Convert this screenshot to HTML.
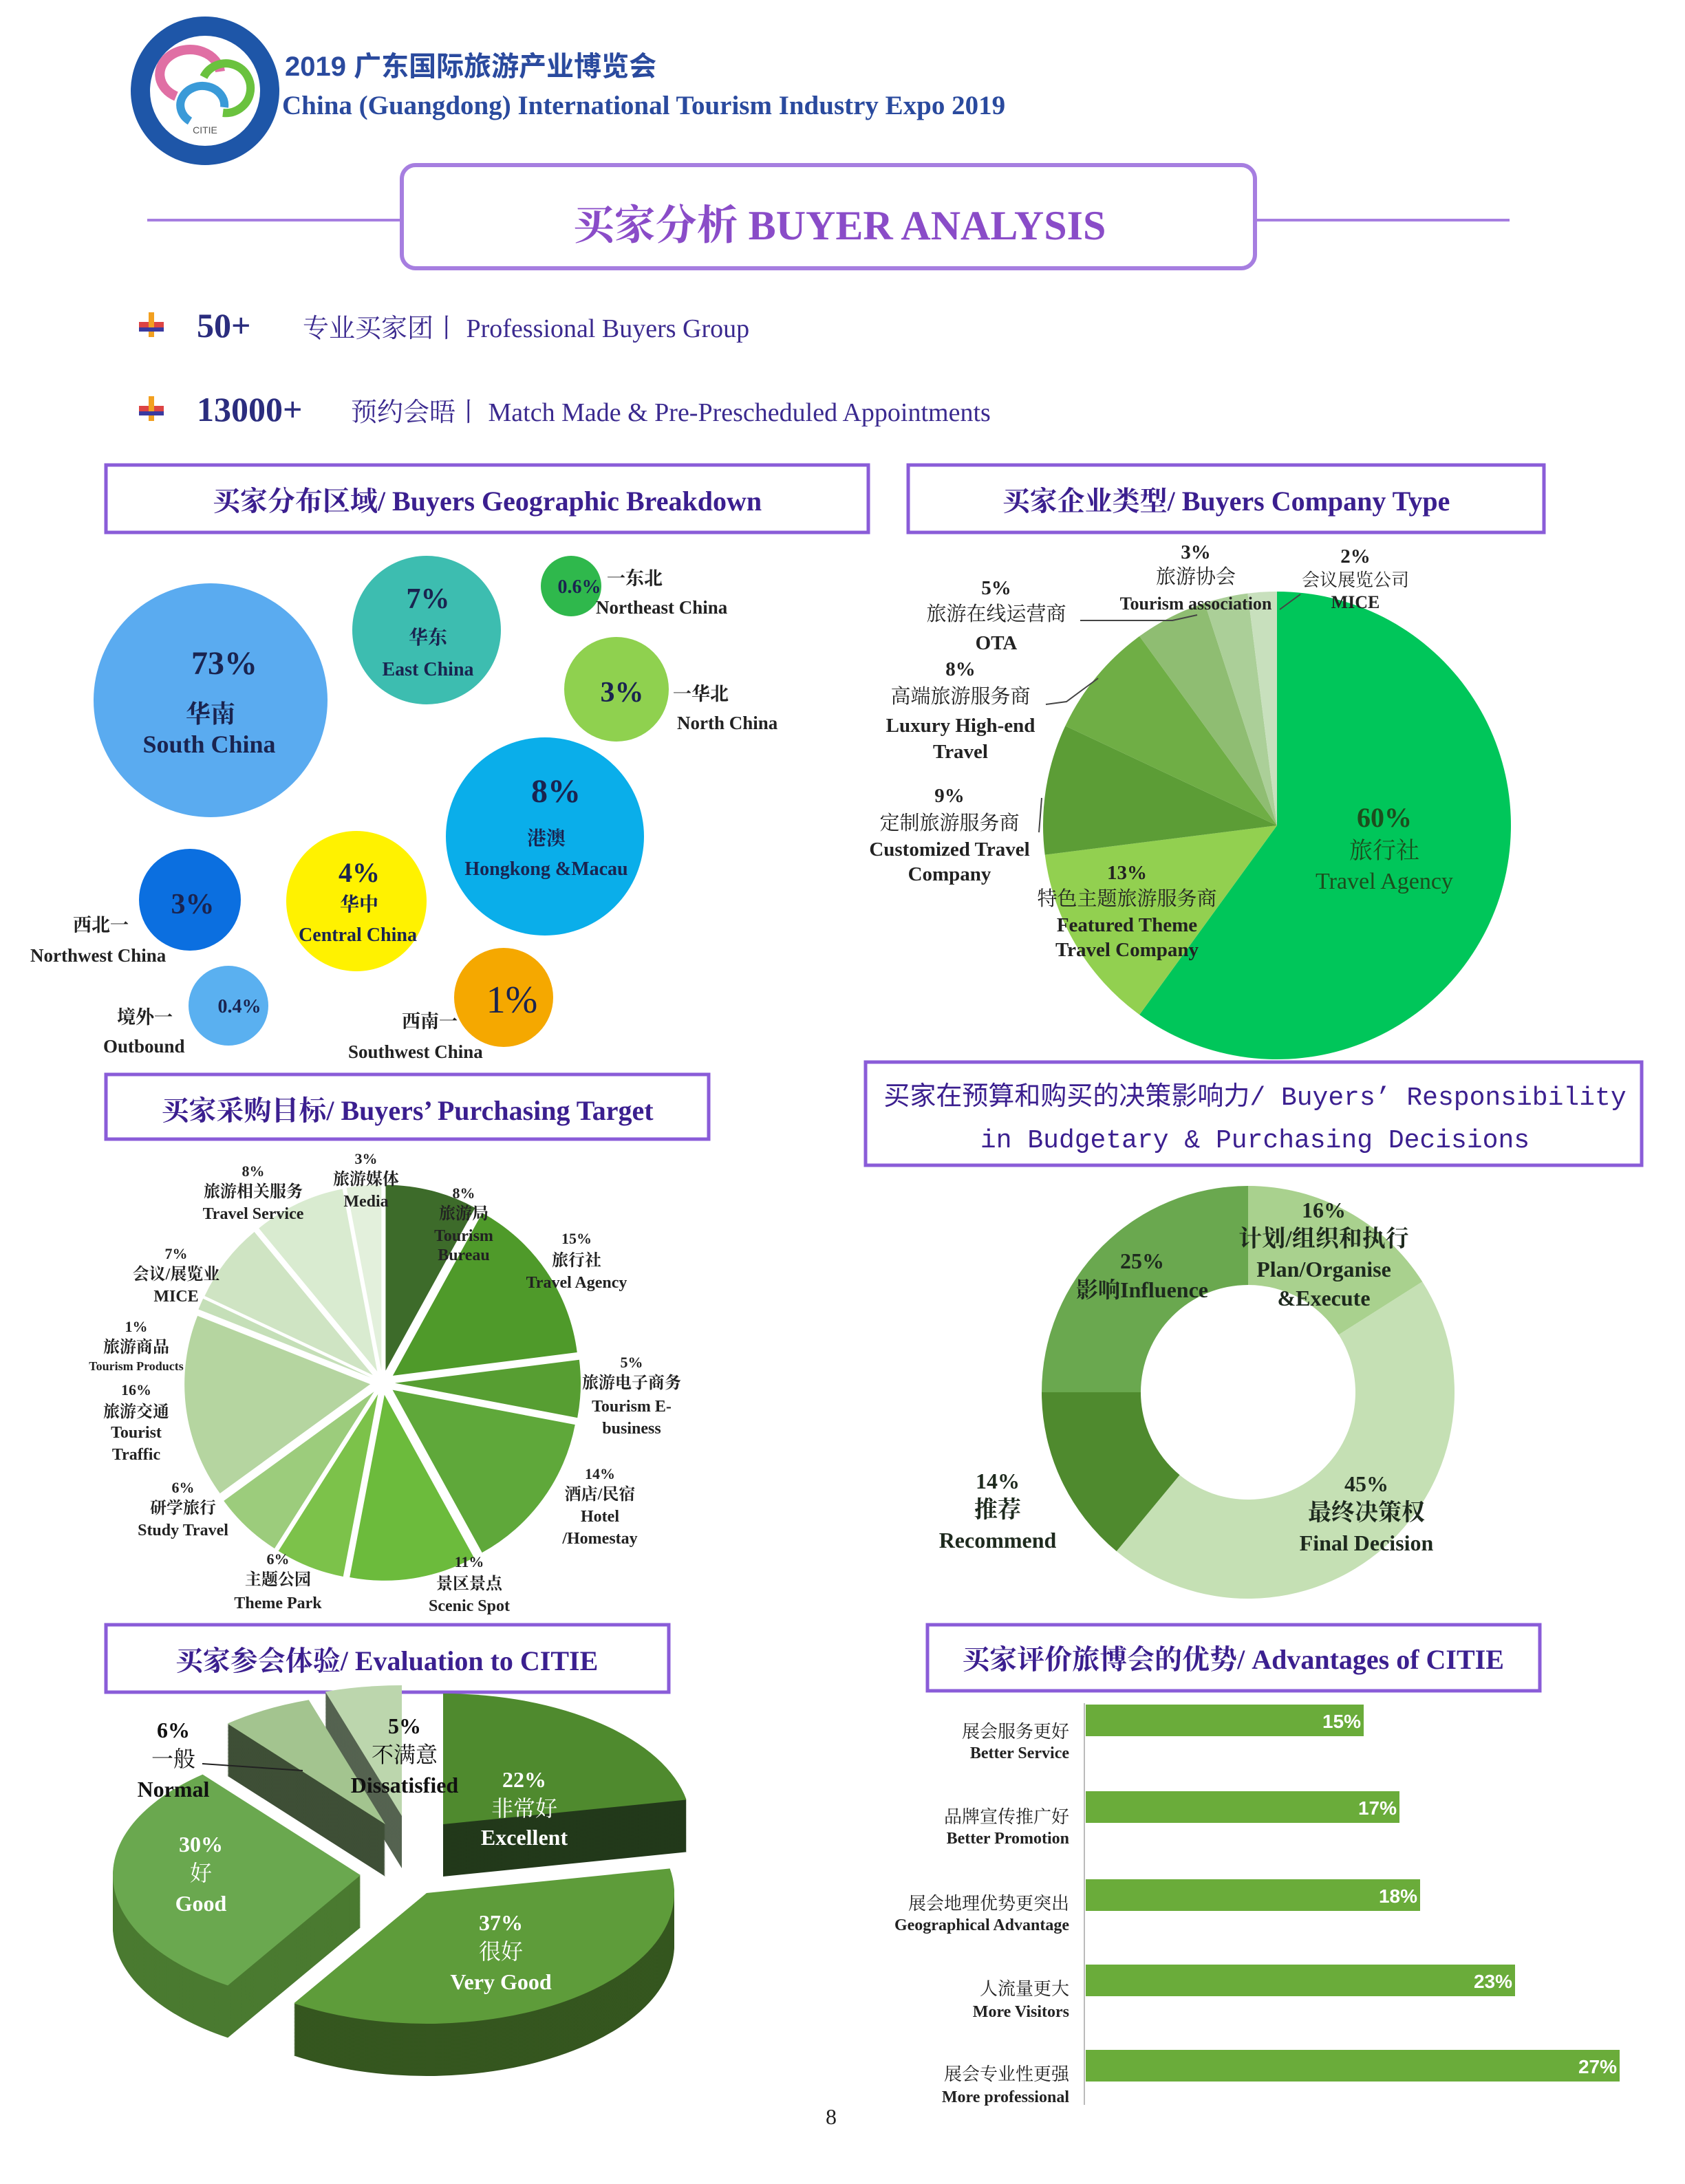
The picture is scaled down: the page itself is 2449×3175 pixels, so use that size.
<!DOCTYPE html>
<html><head><meta charset="utf-8">
<style>
html,body{margin:0;padding:0;background:#fff;}
svg{display:block;}
text{font-family:"Liberation Serif","Noto Serif CJK SC",serif;}
text.sans,.sans text{font-family:"Liberation Sans","Noto Sans CJK SC",sans-serif;}
.mono text{font-family:"Liberation Mono","Noto Sans CJK SC",monospace;}
</style></head>
<body>
<svg id="s" width="2449" height="3175" viewBox="0 0 1224.5 1587.5" xmlns="http://www.w3.org/2000/svg">
<rect width="1224.5" height="1587.5" fill="#fff"/>
<!-- logo -->
<circle cx="149" cy="66" r="54" fill="#1e56a8"/>
<circle cx="149" cy="66" r="40" fill="#fff"/>
<path d="M128 70 A22 18 0 1 1 160 52" fill="none" stroke="#e06fa4" stroke-width="7"/>
<path d="M148 56 A18 18 0 1 1 162 82" fill="none" stroke="#6ac23e" stroke-width="6"/>
<path d="M163 78 A16 14 0 1 0 138 88" fill="none" stroke="#3a9ad8" stroke-width="6"/>
<text x="149" y="97" font-size="7" text-anchor="middle" class="sans" fill="#555">CITIE</text>
<text x="207" y="55" font-size="20" font-weight="bold" class="sans" fill="#2a4a9e">2019 广东国际旅游产业博览会</text>
<text x="205" y="83" font-size="19.5" font-weight="bold" fill="#2a4a9e">China (Guangdong) International Tourism Industry Expo 2019</text>
<!-- header -->
<line x1="107" y1="160" x2="292" y2="160" stroke="#a67ee0" stroke-width="2"/>
<line x1="912" y1="160" x2="1097" y2="160" stroke="#a67ee0" stroke-width="2"/>
<rect x="292" y="120" width="620" height="75" rx="10" fill="#fff" stroke="#a67ee0" stroke-width="3"/>
<text x="610" y="174" font-size="30" text-anchor="middle" fill="#8a4cc8" font-weight="bold">买家分析 BUYER ANALYSIS</text>
<!-- bullets -->
<g><rect x="101" y="234" width="18" height="4" fill="#d44"/><rect x="108" y="227" width="4" height="18" fill="#f2a020"/><rect x="101" y="238" width="18" height="3" fill="#3a3aa0"/></g>
<g><rect x="101" y="295" width="18" height="4" fill="#d44"/><rect x="108" y="288" width="4" height="18" fill="#f2a020"/><rect x="101" y="299" width="18" height="3" fill="#3a3aa0"/></g>
<text x="143" y="245" font-size="25" font-weight="bold" fill="#2b2d7e">50+</text>
<text x="220" y="245" font-size="19" fill="#3b2a8f">专业买家团丨 Professional Buyers Group</text>
<text x="143" y="306" font-size="25" font-weight="bold" fill="#2b2d7e">13000+</text>
<text x="255" y="306" font-size="19" fill="#3b2a8f">预约会晤丨 Match Made &amp; Pre-Prescheduled Appointments</text>
<!-- section boxes -->
<g fill="none" stroke="#8a5cd8" stroke-width="2.5">
<rect x="77" y="338" width="554" height="49"/>
<rect x="660" y="338" width="462" height="49"/>
<rect x="77" y="781" width="438" height="47"/>
<rect x="629" y="772" width="564" height="75"/>
<rect x="77" y="1181" width="409" height="49"/>
<rect x="674" y="1181" width="445" height="48"/>
</g>
<g font-size="20" font-weight="bold" fill="#3b1f8f" text-anchor="middle">
<text x="354" y="371">买家分布区域/ Buyers Geographic Breakdown</text>
<text x="891" y="371">买家企业类型/ Buyers Company Type</text>
<text x="296" y="814">买家采购目标/ Buyers’ Purchasing Target</text>
<text x="281" y="1214">买家参会体验/ Evaluation to CITIE</text>
<text x="896" y="1213">买家评价旅博会的优势/ Advantages of CITIE</text>
</g>
<g font-size="19" fill="#3b1f8f" text-anchor="middle" class="mono">
<text x="912" y="803">买家在预算和购买的决策影响力/ Buyers’ Responsibility</text>
<text x="912" y="834">in Budgetary &amp; Purchasing Decisions</text>
</g>
<!-- bubbles -->
<circle cx="153" cy="509" r="85" fill="#5aabf0"/>
<circle cx="310" cy="458" r="54" fill="#3dbdb0"/>
<circle cx="415" cy="426" r="22" fill="#2fb84c"/>
<circle cx="448" cy="501" r="38" fill="#8fd14f"/>
<circle cx="396" cy="608" r="72" fill="#0aaeea"/>
<circle cx="138" cy="654" r="37" fill="#0b6fe0"/>
<circle cx="259" cy="655" r="51" fill="#fff200"/>
<circle cx="166" cy="731" r="29" fill="#5ab0f0"/>
<circle cx="366" cy="725" r="36" fill="#f5a800"/>
<g font-weight="bold" fill="#1a2450" text-anchor="middle">
<text x="163" y="490" font-size="24">73%</text>
<text x="153" y="525" font-size="18">华南</text>
<text x="152" y="547" font-size="18">South China</text>
<text x="311" y="442" font-size="21">7%</text>
<text x="311" y="468" font-size="14">华东</text>
<text x="311" y="491" font-size="14">East China</text>
<text x="421" y="431" font-size="14">0.6%</text>
<text x="452" y="510" font-size="21">3%</text>
<text x="404" y="583" font-size="24">8%</text>
<text x="397" y="614" font-size="14">港澳</text>
<text x="397" y="636" font-size="14">Hongkong &amp;Macau</text>
<text x="140" y="664" font-size="21">3%</text>
<text x="261" y="641" font-size="20">4%</text>
<text x="261" y="662" font-size="14">华中</text>
<text x="260" y="684" font-size="14">Central China</text>
<text x="174" y="736" font-size="14">0.4%</text>
<text x="372" y="736" font-size="28" font-weight="normal">1%</text>
</g>
<g font-size="13.5" font-weight="bold" fill="#222">
<text x="441" y="425">一东北</text><text x="433" y="446">Northeast China</text>
<text x="489" y="509">一华北</text><text x="492" y="530">North China</text>
<text x="53" y="677">西北一</text><text x="22" y="699">Northwest China</text>
<text x="85" y="744">境外一</text><text x="75" y="765">Outbound</text>
<text x="292" y="747">西南一</text><text x="253" y="769">Southwest China</text>
</g>
<g id="pies"></g>
<!-- company type labels -->
<g font-size="14.5" fill="#222" text-anchor="middle">
<text x="724" y="432" font-weight="bold">5%</text><text x="724" y="451">旅游在线运营商</text><text x="724" y="472" font-weight="bold">OTA</text>
<text x="698" y="491" font-weight="bold">8%</text><text x="698" y="511">高端旅游服务商</text><text x="698" y="532" font-weight="bold">Luxury High-end</text><text x="698" y="551" font-weight="bold">Travel</text>
<text x="690" y="583" font-weight="bold">9%</text><text x="690" y="603">定制旅游服务商</text><text x="690" y="622" font-weight="bold">Customized Travel</text><text x="690" y="640" font-weight="bold">Company</text>
<text x="819" y="639" font-weight="bold">13%</text><text x="819" y="658">特色主题旅游服务商</text><text x="819" y="677" font-weight="bold">Featured Theme</text><text x="819" y="695" font-weight="bold">Travel Company</text>
<text x="869" y="406" font-weight="bold">3%</text><text x="869" y="424">旅游协会</text><text x="869" y="443" font-weight="bold" font-size="13">Tourism association</text>
<text x="985" y="409" font-weight="bold">2%</text><text x="985" y="426" font-size="13">会议展览公司</text><text x="985" y="442" font-weight="bold" font-size="13">MICE</text>
<text x="1006" y="601" font-size="20" font-weight="bold" fill="#1d4d1d">60%</text><text x="1006" y="624" font-size="17" fill="#1d4d1d">旅行社</text><text x="1006" y="646" font-size="17" fill="#1d4d1d">Travel Agency</text>
</g>
<g stroke="#444" fill="none" stroke-width="1">
<polyline points="785,451 852,451 870,447"/>
<polyline points="760,512 775,510 798,493"/>
<polyline points="755,605 757,580"/>
<line x1="930" y1="443" x2="945" y2="432"/>
</g>
<!-- purchasing labels -->
<g font-size="12" fill="#222" text-anchor="middle" font-weight="bold">
<text x="184" y="855" font-size="11">8%</text><text x="184" y="870">旅游相关服务</text><text x="184" y="886">Travel Service</text>
<text x="266" y="846" font-size="11">3%</text><text x="266" y="861">旅游媒体</text><text x="266" y="877">Media</text>
<text x="337" y="871" font-size="11">8%</text><text x="337" y="886">旅游局</text><text x="337" y="902">Tourism</text><text x="337" y="916">Bureau</text>
<text x="419" y="904" font-size="11">15%</text><text x="419" y="920">旅行社</text><text x="419" y="936">Travel Agency</text>
<text x="459" y="994" font-size="11">5%</text><text x="459" y="1009">旅游电子商务</text><text x="459" y="1026">Tourism E-</text><text x="459" y="1042">business</text>
<text x="436" y="1075" font-size="11">14%</text><text x="436" y="1090">酒店/民宿</text><text x="436" y="1106">Hotel</text><text x="436" y="1122">/Homestay</text>
<text x="341" y="1139" font-size="11">11%</text><text x="341" y="1155">景区景点</text><text x="341" y="1171">Scenic Spot</text>
<text x="202" y="1137" font-size="11">6%</text><text x="202" y="1152">主题公园</text><text x="202" y="1169">Theme Park</text>
<text x="133" y="1085" font-size="11">6%</text><text x="133" y="1100">研学旅行</text><text x="133" y="1116">Study Travel</text>
<text x="99" y="1014" font-size="11">16%</text><text x="99" y="1030">旅游交通</text><text x="99" y="1045">Tourist</text><text x="99" y="1061">Traffic</text>
<text x="99" y="968" font-size="11">1%</text><text x="99" y="983">旅游商品</text><text x="99" y="996" font-size="9">Tourism Products</text>
<text x="128" y="915" font-size="11">7%</text><text x="128" y="930">会议/展览业</text><text x="128" y="946">MICE</text>
</g>
<!-- donut labels -->
<g font-size="16" fill="#1e2a1e" text-anchor="middle" font-weight="bold">
<text x="962" y="885">16%</text><text x="962" y="906" font-size="17">计划/组织和执行</text><text x="962" y="928">Plan/Organise</text><text x="962" y="949">&amp;Execute</text>
<text x="830" y="922">25%</text><text x="830" y="943">影响Influence</text>
<text x="725" y="1082">14%</text><text x="725" y="1103" font-size="17">推荐</text><text x="725" y="1125">Recommend</text>
<text x="993" y="1084">45%</text><text x="993" y="1105" font-size="17">最终决策权</text><text x="993" y="1127">Final Decision</text>
</g>
<g id="pie3"></g>
<!-- eval labels -->
<g font-size="16" text-anchor="middle">
<text x="126" y="1263" font-weight="bold" fill="#111">6%</text><text x="126" y="1284" fill="#111">一般</text><text x="126" y="1306" font-weight="bold" fill="#111">Normal</text>
<text x="294" y="1260" font-weight="bold" fill="#111">5%</text><text x="294" y="1281" fill="#111">不满意</text><text x="294" y="1303" font-weight="bold" fill="#111">Dissatisfied</text>
<text x="381" y="1299" font-weight="bold" fill="#fff">22%</text><text x="381" y="1320" fill="#fff">非常好</text><text x="381" y="1341" font-weight="bold" fill="#fff">Excellent</text>
<text x="146" y="1346" font-weight="bold" fill="#fff">30%</text><text x="146" y="1367" fill="#fff">好</text><text x="146" y="1389" font-weight="bold" fill="#fff">Good</text>
<text x="364" y="1403" font-weight="bold" fill="#fff">37%</text><text x="364" y="1424" fill="#fff">很好</text><text x="364" y="1446" font-weight="bold" fill="#fff">Very Good</text>
</g>
<line x1="147" y1="1282" x2="220" y2="1287" stroke="#222" stroke-width="1"/>
<!-- bars -->
<line x1="788" y1="1238" x2="788" y2="1530" stroke="#bbb" stroke-width="1"/>
<g fill="#6aac3a">
<rect x="789" y="1239" width="202" height="23"/>
<rect x="789" y="1302" width="228" height="23"/>
<rect x="789" y="1366" width="243" height="23"/>
<rect x="789" y="1428" width="312" height="23"/>
<rect x="789" y="1490" width="388" height="23"/>
</g>
<g font-size="14" font-weight="bold" fill="#fff" text-anchor="end" class="sans">
<text x="989" y="1256">15%</text><text x="1015" y="1319">17%</text><text x="1030" y="1383">18%</text><text x="1099" y="1445">23%</text><text x="1175" y="1507">27%</text>
</g>
<g font-size="13" fill="#222" text-anchor="end">
<text x="777" y="1263">展会服务更好</text><text x="777" y="1278" font-weight="bold" font-size="12">Better Service</text>
<text x="777" y="1325">品牌宣传推广好</text><text x="777" y="1340" font-weight="bold" font-size="12">Better Promotion</text>
<text x="777" y="1388">展会地理优势更突出</text><text x="777" y="1403" font-weight="bold" font-size="12">Geographical Advantage</text>
<text x="777" y="1450">人流量更大</text><text x="777" y="1466" font-weight="bold" font-size="12">More Visitors</text>
<text x="777" y="1512">展会专业性更强</text><text x="777" y="1528" font-weight="bold" font-size="12">More professional</text>
</g>
<text x="604" y="1544" font-size="16" text-anchor="middle" fill="#222">8</text>
</svg>
<script>
(function(){
var NS='http://www.w3.org/2000/svg',g;
function P(d,f){var p=document.createElementNS(NS,'path');p.setAttribute('d',d);p.setAttribute('fill',f);g.appendChild(p);}
function rad(a){return a*Math.PI/180;}
function sector(cx,cy,r0,r,a0,a1,f,ex){var m=rad((a0+a1)/2);cx+=Math.cos(m)*(ex||0);cy+=Math.sin(m)*(ex||0);
var b=rad(a0),e=rad(a1),L=(a1-a0)>180?1:0;
var d='M'+(cx+r*Math.cos(b))+' '+(cy+r*Math.sin(b))+' A'+r+' '+r+' 0 '+L+' 1 '+(cx+r*Math.cos(e))+' '+(cy+r*Math.sin(e));
if(r0>0){d+=' L'+(cx+r0*Math.cos(e))+' '+(cy+r0*Math.sin(e))+' A'+r0+' '+r0+' 0 '+L+' 0 '+(cx+r0*Math.cos(b))+' '+(cy+r0*Math.sin(b))+'Z';}
else d+=' L'+cx+' '+cy+'Z';P(d,f);}
function run(data,cx,cy,r0,r,ex,start){var a=start;data.forEach(function(s){var b=a+s[0]*3.6;sector(cx,cy,r0,r,a,b,s[1],ex);a=b;});}
g=document.getElementById('pies');
run([[60,'#00c65a'],[13,'#92d050'],[9,'#5c9d36'],[8,'#6fae45'],[5,'#8fbd72'],[3,'#abcf98'],[2,'#c8e0bd']],928,600,0,170,0,-90);
run([[8,'#3d6b2a'],[15,'#4f9a2a'],[5,'#579e32'],[14,'#5fa83a'],[11,'#6cbb3c'],[6,'#7cc24a'],[6,'#9ccc7c'],[16,'#b5d5a0'],[1,'#c5dfb8'],[7,'#cfe4c3'],[8,'#d9ebd0'],[3,'#e3f0dc']],278,1005,0,135,9,-90);
run([[16,'#a9d18e'],[45,'#c5e0b4'],[14,'#4f8a2e'],[25,'#6aa84f']],907,1012,78,150,0,-90);
g=document.getElementById('pie3');
var cx=292,cy=1368,rx=180,ry=95,D=38;
var sl=[[22,'#4f8a2e','#22391a',30,-42],[37,'#5e9c3a','#35561f',18,8],[30,'#6aa84f','#4a7a30',-30,-5],[6,'#a3c48f','#3e4f36',-12,-42],[5,'#bcd6ad','#556350',0,-48]];
function ep(ox,oy,a0,a1){var b=rad(a0),e=rad(a1),L=(a1-a0)>180?1:0,x=cx+ox,y=cy+oy;
return 'M'+x+' '+y+' L'+(x+rx*Math.cos(b))+' '+(y+ry*Math.sin(b))+' A'+rx+' '+ry+' 0 '+L+' 1 '+(x+rx*Math.cos(e))+' '+(y+ry*Math.sin(e))+'Z';}
var a=-90,ang=[];sl.forEach(function(s){var b=a+s[0]*3.6;ang.push([a,b]);a=b;});
for(var d=D;d>0;d-=1){sl.forEach(function(s,i){P(ep(s[3],s[4]+d,ang[i][0],ang[i][1]),s[2]);});}
sl.forEach(function(s,i){P(ep(s[3],s[4],ang[i][0],ang[i][1]),s[1]);});
})();
</script>
</body></html>
